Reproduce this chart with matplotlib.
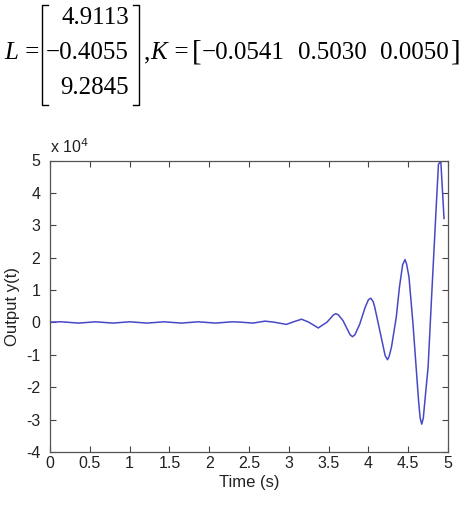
import matplotlib
matplotlib.use("Agg")
import matplotlib.pyplot as plt
from matplotlib.lines import Line2D

plt.rcParams["axes.unicode_minus"] = False

# output y(t), values in units of 1e4
time_s = [0.00, 0.14, 0.36, 0.57, 0.79, 1.00, 1.22, 1.43, 1.65, 1.86, 2.08,
          2.29, 2.39, 2.55, 2.70, 2.81, 2.97, 3.06, 3.16, 3.25, 3.37, 3.48,
          3.56, 3.59, 3.62, 3.68, 3.77, 3.80, 3.83, 3.89, 3.96, 4.00, 4.03,
          4.06, 4.08, 4.17, 4.21, 4.24, 4.26, 4.29, 4.35, 4.39, 4.43, 4.46,
          4.48, 4.51, 4.56, 4.63, 4.65, 4.67, 4.69, 4.71, 4.75, 4.79, 4.84,
          4.88, 4.91, 4.95]
output_y = [0.01, 0.02, -0.02, 0.02, -0.02, 0.02, -0.02, 0.02, -0.02, 0.02, -0.02,
            0.02, 0.01, -0.02, 0.04, 0.01, -0.06, 0.02, 0.10, 0.01, -0.17, 0.01,
            0.23, 0.27, 0.24, 0.06, -0.38, -0.44, -0.38, -0.06, 0.47, 0.70, 0.75,
            0.64, 0.47, -0.56, -1.02, -1.15, -1.05, -0.76, 0.16, 1.09, 1.78, 1.94,
            1.80, 1.40, -0.04, -2.41, -2.95, -3.14, -2.95, -2.41, -1.38, 0.60, 3.00,
            4.89, 4.97, 3.21]

L_gain = ["4.9113", "\u22120.4055", "9.2845"]
K_gain = ["\u22120.0541", "0.5030", "0.0050"]

W, H = 463, 513
fig = plt.figure(figsize=(W / 100, H / 100), dpi=100)

serif = "Liberation Serif"
fs = 18

def px(x, y):
    return x / W, 1 - y / H

# equation at the top
fig.text(*px(4, 53), "L =", family=serif, fontsize=fs, va="center", style="italic")
for val, yy in zip(L_gain, [18, 53, 88]):
    fig.text(*px(129, yy), val, family=serif, fontsize=fs, va="center", ha="right")

# brackets of the column vector
def bracket(x, side):
    d = 6 if side == "left" else -6
    xs = [x + d, x, x, x + d]
    ys = [5, 5, 105, 105]
    fig.add_artist(Line2D([px(a, b)[0] for a, b in zip(xs, ys)],
                          [px(a, b)[1] for a, b in zip(xs, ys)],
                          color="black", lw=1.0, transform=fig.transFigure))

bracket(42, "left")
bracket(139, "right")

fig.text(*px(144, 53), ",", family=serif, fontsize=fs, va="center")
fig.text(*px(150, 53), "K =", family=serif, fontsize=fs, va="center", style="italic")
fig.text(*px(192, 53), "[", family=serif, fontsize=fs + 3, va="center")
for val, xx in zip(K_gain, [285, 367, 449]):
    fig.text(*px(xx, 53), val, family=serif, fontsize=fs, va="center", ha="right")
fig.text(*px(451, 53), "]", family=serif, fontsize=fs + 3, va="center")

# plot
ax = fig.add_axes([50 / W, 1 - 452 / H, 398 / W, 291.5 / H])
ax.plot(time_s, output_y, color="#4848c6", lw=1.1)
ax.set_xlim(0, 5)
ax.set_ylim(-4, 5)
ax.set_xticks([0, 0.5, 1, 1.5, 2, 2.5, 3, 3.5, 4, 4.5, 5])
ax.set_xticklabels(["0", "0.5", "1", "1.5", "2", "2.5", "3", "3.5", "4", "4.5", "5"])
ax.set_yticks(range(-4, 6))
ax.tick_params(direction="in", length=4, width=0.8, top=True, right=True,
               labelsize=11.5, colors="#444444", labelcolor="#222222")
ax.tick_params(axis="x", pad=3)
ax.tick_params(axis="y", pad=7)
for lbl in ax.get_xticklabels() + ax.get_yticklabels():
    lbl.set_family("Liberation Sans")
for sp in ax.spines.values():
    sp.set_color("#555555")
    sp.set_linewidth(0.9)

ax.set_xlabel("Time (s)", family="Liberation Sans", fontsize=12, labelpad=3,
              color="#222222")
ax.set_ylabel("Output y(t)", family="Liberation Sans", fontsize=12, labelpad=4,
              color="#222222")
fig.text(*px(50, 147), "x 10$^{4}$", family="Liberation Sans", fontsize=11.5,
         va="center", color="#222222", math_fontfamily="dejavusans")

fig.savefig("out.png", dpi=100)
